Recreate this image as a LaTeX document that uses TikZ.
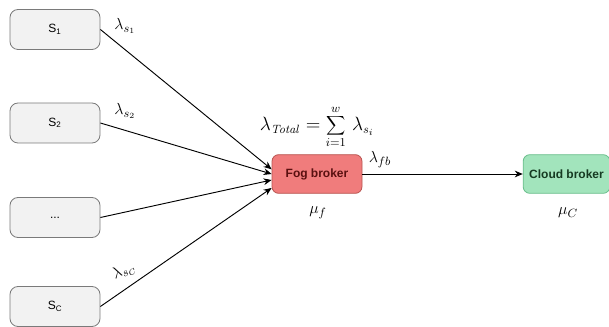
\documentclass[tikz,border=0pt]{standalone}
\usepackage[no-math]{fontspec}
\newfontfamily\boxfont{Liberation Sans}
\usetikzlibrary{arrows.meta}
\definecolor{srcfill}{HTML}{F2F2F2}
\definecolor{srcline}{HTML}{7A7A7A}
\definecolor{fogfill}{HTML}{F07C7C}
\definecolor{fogline}{HTML}{B85450}
\definecolor{fogtext}{HTML}{5A1010}
\definecolor{cloudfill}{HTML}{A2E4BC}
\definecolor{cloudline}{HTML}{6BBE8C}
\definecolor{cloudtext}{HTML}{163A22}
\tikzset{
  srcbox/.style={draw=srcline, fill=srcfill, rounded corners=6pt, minimum width=67.5pt, minimum height=30pt, font=\boxfont\fontsize{9}{10}\selectfont, line width=0.6pt},
  brokerbox/.style={rounded corners=5pt, minimum width=67.5pt, minimum height=29pt, font=\boxfont\fontsize{9}{10}\selectfont\bfseries, line width=0.6pt, inner sep=0pt},
  link/.style={-{Stealth[length=6pt,width=5pt]}, line width=0.7pt},
  rate/.style={font=\fontsize{12.5}{14}\selectfont, inner sep=0pt}
}
\begin{document}
\begin{tikzpicture}[x=0.75pt, y=-0.75pt]
\useasboundingbox (0,0) rectangle (609,327);
% sources
\node[srcbox] (s1) at (55,29.5) {S\textsubscript{1}};
\node[srcbox] (s2) at (55,123) {S\textsubscript{2}};
\node[srcbox] (sd) at (55,217.5) {...};
\node[srcbox] (sc) at (55,306.5) {S\textsubscript{C}};
% brokers
\node[brokerbox, draw=fogline, fill=fogfill, text=fogtext] (fog) at (317,174) {Fog broker};
\node[brokerbox, draw=cloudline, fill=cloudfill, text=cloudtext, minimum width=65pt] (cloud) at (566.5,174) {Cloud broker};
% anchor points on the fog broker
\coordinate (f1) at ([yshift=3.5pt]fog.west);
\coordinate (f2) at ([yshift=0pt]fog.west);
\coordinate (f3) at ([yshift=-4.5pt]fog.west);
\coordinate (f4) at ([yshift=-10.5pt]fog.west);
% connectors
\draw[link] (s1.east) -- (f1);
\draw[link] (s2.east) -- (f2);
\draw[link] (sd.east) -- (f3);
\draw[link] (sc.east) -- (f4);
\draw[link] (fog.east) -- (cloud.west);
% rates
\node[rate] (l1) at (125,26) {$\lambda_{s_1}$};
\node[rate] (l2) at (125,111) {$\lambda_{s_2}$};
\node[rate, rotate=28] (lc) at (124,271) {$\lambda_{s_C}$};
\node[rate, font=\fontsize{13.5}{15}\selectfont] (lt) at (317,127) {$\lambda_{\mathit{Total}} = \displaystyle\sum_{i=1}^{w}\, \lambda_{s_i}$};
\node[rate] (lf) at (380,160) {$\lambda_{fb}$};
\node[rate] (mf) at (318,213) {$\mu_{f}$};
\node[rate] (mc) at (568,213) {$\mu_{C}$};
\end{tikzpicture}
\end{document}
